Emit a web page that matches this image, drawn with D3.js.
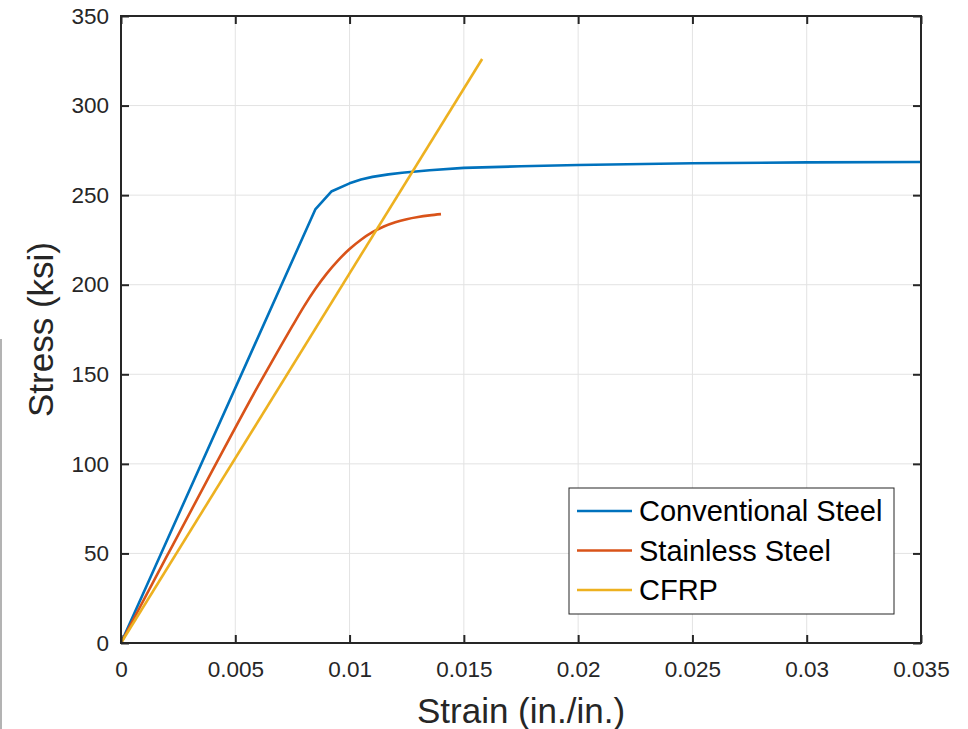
<!DOCTYPE html>
<html>
<head>
<meta charset="utf-8">
<script src="https://cdn.jsdelivr.net/npm/d3@7"></script>
<style>
  body { margin: 0; background: #fff; }
  svg { display: block; }
</style>
</head>
<body>
<div class="chart"></div>
<script>
// tick values / labels
const strainTicks = [0, 0.005, 0.01, 0.015, 0.02, 0.025, 0.03, 0.035];
const strainLabels = ["0", "0.005", "0.01", "0.015", "0.02", "0.025", "0.03", "0.035"];
const stressTicks = [0, 50, 100, 150, 200, 250, 300, 350];

// series
const seriesNames = ["Conventional Steel", "Stainless Steel", "CFRP"];
const seriesColors = ["#0072BD", "#D95319", "#EDB120"];

const convStrain = [0, 0.0085, 0.0092, 0.0100, 0.0105, 0.0110, 0.0117, 0.0123, 0.0135, 0.0150, 0.0175, 0.0200, 0.0250, 0.0300, 0.0350];
const convStress = [0, 242, 252, 256.6, 258.7, 260.2, 261.6, 262.5, 263.9, 265.2, 266.1, 266.8, 267.8, 268.3, 268.5];

const stainStrain = [0, 0.002, 0.004, 0.006, 0.007, 0.0075, 0.008, 0.0085, 0.009, 0.0095, 0.010, 0.0105, 0.011, 0.0115, 0.012, 0.0125, 0.013, 0.0135, 0.014];
const stainStress = [0, 48.3, 96.3, 143.5, 166, 177, 187.8, 197.6, 206.2, 213.6, 219.9, 225.1, 229.3, 232.5, 234.9, 236.6, 237.8, 238.7, 239.4];

const cfrpStrain = [0, 0.0158];
const cfrpStress = [0, 326];

const cfg = {
  width: 968, height: 729,
  left: 121, right: 921, top: 16, bottom: 643,
  font: "'Liberation Sans', Arial, Helvetica, sans-serif",
  axisColor: "#262626",
  gridColor: "#e3e3e3",
  tickLen: 8
};

const svg = d3.select("div.chart").append("svg")
  .attr("width", cfg.width).attr("height", cfg.height);

const x = d3.scaleLinear().domain([0, 0.035]).range([cfg.left, cfg.right]);
const y = d3.scaleLinear().domain([0, 350]).range([cfg.bottom, cfg.top]);

// stray frame line at far left of the source image
svg.append("line")
  .attr("x1", 1).attr("x2", 1).attr("y1", 339).attr("y2", cfg.height)
  .attr("stroke", "#9a9a9a").attr("stroke-width", 1.5);

// grid
const grid = svg.append("g");
grid.selectAll("line.gx").data(strainTicks.slice(1, -1)).enter().append("line")
  .attr("x1", d => x(d)).attr("x2", d => x(d))
  .attr("y1", cfg.top).attr("y2", cfg.bottom)
  .attr("stroke", cfg.gridColor).attr("stroke-width", 1);
grid.selectAll("line.gy").data(stressTicks.slice(1, -1)).enter().append("line")
  .attr("y1", d => y(d)).attr("y2", d => y(d))
  .attr("x1", cfg.left).attr("x2", cfg.right)
  .attr("stroke", cfg.gridColor).attr("stroke-width", 1);

// curves
const lineLin = d3.line().x(d => x(d[0])).y(d => y(d[1]));
const lineSmooth = d3.line().x(d => x(d[0])).y(d => y(d[1])).curve(d3.curveMonotoneX);
const seriesData = [
  d3.zip(convStrain, convStress),
  d3.zip(stainStrain, stainStress),
  d3.zip(cfrpStrain, cfrpStress)
];
svg.append("g").selectAll("path").data(seriesData).enter().append("path")
  .attr("d", (d, i) => i === 1 ? lineSmooth(d) : lineLin(d))
  .attr("fill", "none")
  .attr("stroke", (d, i) => seriesColors[i])
  .attr("stroke-width", 2.6)
  .attr("stroke-linejoin", "round");

// axes (MATLAB style: ticks inside, box on)
const xAxisB = d3.axisBottom(x).tickValues(strainTicks).tickSize(-cfg.tickLen)
  .tickFormat((d, i) => strainLabels[i]).tickPadding(18);
const xAxisT = d3.axisTop(x).tickValues(strainTicks).tickSize(-cfg.tickLen).tickFormat("");
const yAxisL = d3.axisLeft(y).tickValues(stressTicks).tickSize(-cfg.tickLen).tickPadding(12);
const yAxisR = d3.axisRight(y).tickValues(stressTicks).tickSize(-cfg.tickLen).tickFormat("");

function styleAxis(g) {
  g.selectAll("path.domain").attr("stroke", cfg.axisColor).attr("stroke-width", 2);
  g.selectAll(".tick line").attr("stroke", cfg.axisColor).attr("stroke-width", 2);
  g.selectAll(".tick text")
    .attr("fill", cfg.axisColor)
    .attr("font-family", cfg.font)
    .attr("font-size", "22.5px");
}

svg.append("g").attr("transform", `translate(0,${cfg.bottom})`).call(xAxisB).call(styleAxis);
svg.append("g").attr("transform", `translate(0,${cfg.top})`).call(xAxisT).call(styleAxis);
svg.append("g").attr("transform", `translate(${cfg.left},0)`).call(yAxisL).call(styleAxis);
svg.append("g").attr("transform", `translate(${cfg.right},0)`).call(yAxisR).call(styleAxis);
svg.selectAll("path.domain").attr("d", null);
svg.append("rect")
  .attr("x", cfg.left).attr("y", cfg.top)
  .attr("width", cfg.right - cfg.left).attr("height", cfg.bottom - cfg.top)
  .attr("fill", "none").attr("stroke", cfg.axisColor).attr("stroke-width", 2);

// axis titles
svg.append("text")
  .attr("x", (cfg.left + cfg.right) / 2).attr("y", 723)
  .attr("text-anchor", "middle")
  .attr("font-family", cfg.font).attr("font-size", "35px")
  .attr("fill", cfg.axisColor)
  .text("Strain (in./in.)");
svg.append("text")
  .attr("transform", `translate(53,${(cfg.top + cfg.bottom) / 2}) rotate(-90)`)
  .attr("text-anchor", "middle")
  .attr("font-family", cfg.font).attr("font-size", "35px")
  .attr("fill", cfg.axisColor)
  .text("Stress (ksi)");

// legend
const legend = svg.append("g").attr("transform", "translate(569,488)");
legend.append("rect")
  .attr("width", 325).attr("height", 126)
  .attr("fill", "#fff").attr("stroke", cfg.axisColor).attr("stroke-width", 1);
const items = legend.selectAll("g.item").data(seriesNames).enter().append("g")
  .attr("transform", (d, i) => `translate(0,${23 + i * 39.5})`);
items.append("line")
  .attr("x1", 8).attr("x2", 63)
  .attr("stroke", (d, i) => seriesColors[i]).attr("stroke-width", 2.6);
items.append("text")
  .attr("x", 70).attr("y", 10)
  .attr("font-family", cfg.font).attr("font-size", "29px")
  .attr("fill", "#000")
  .text(d => d);
</script>
</body>
</html>
